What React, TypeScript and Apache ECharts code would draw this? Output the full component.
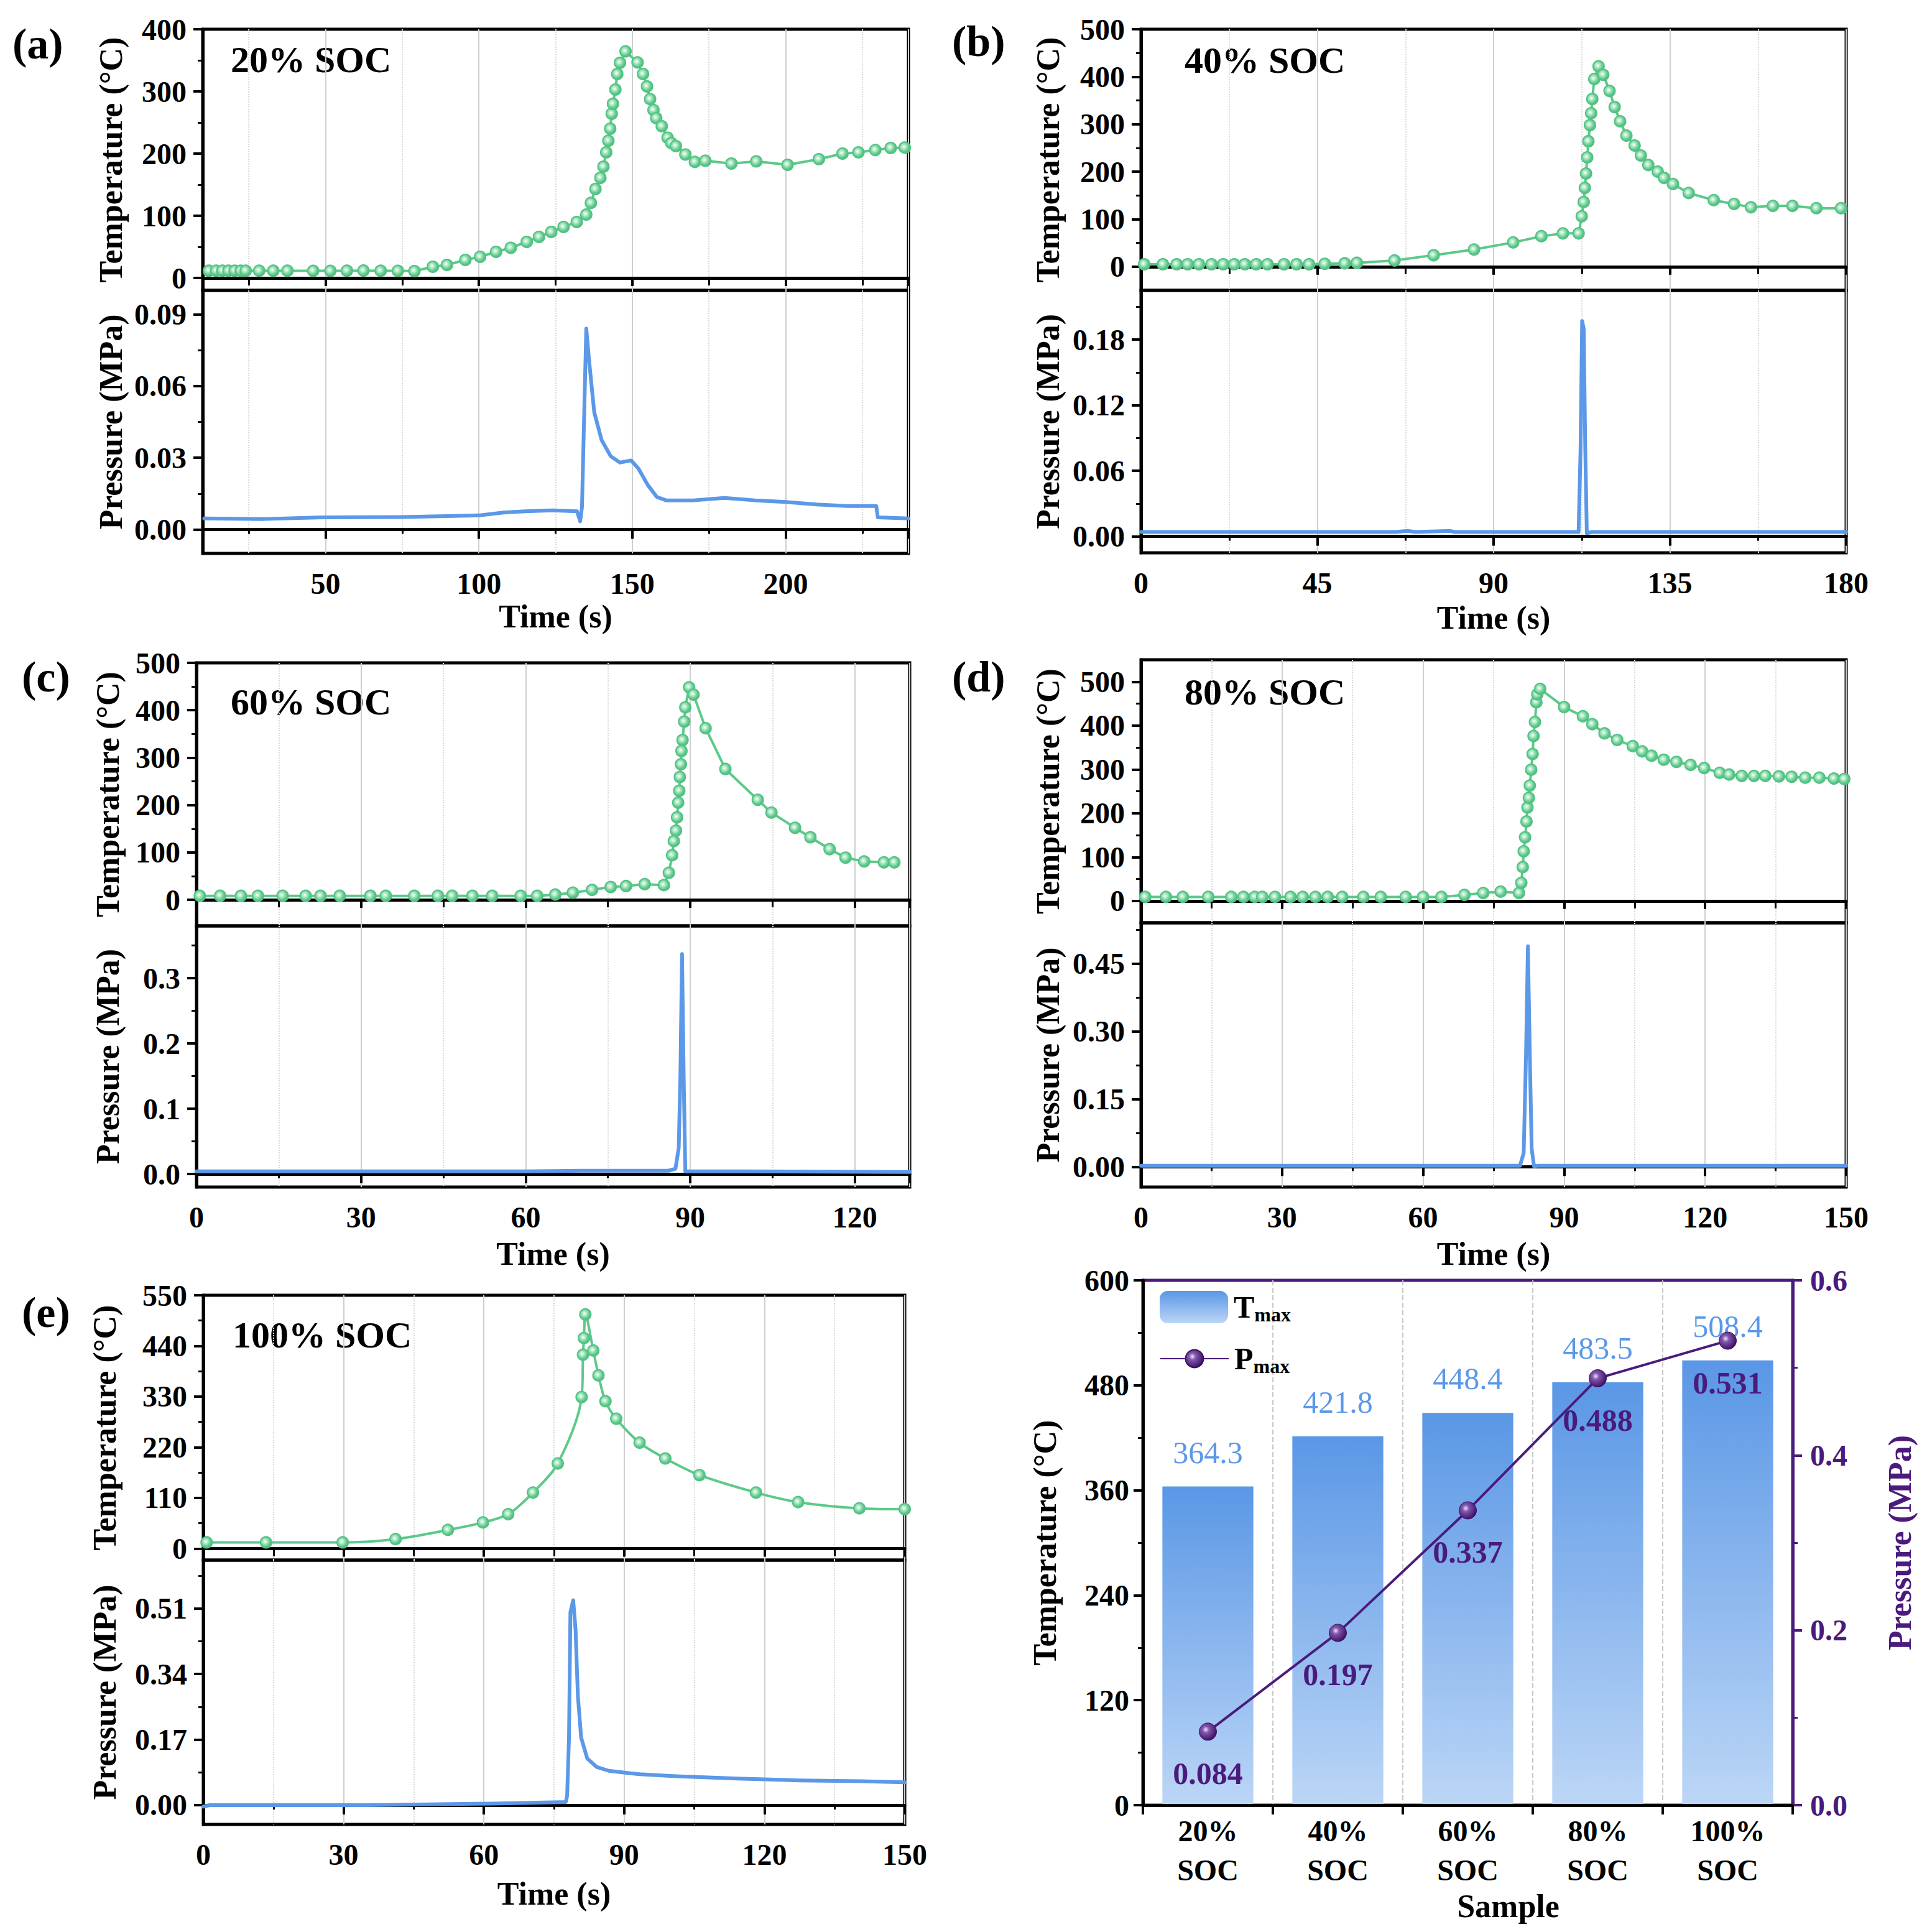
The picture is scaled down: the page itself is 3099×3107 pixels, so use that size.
import React, { useEffect, useRef } from 'react';
import * as echarts from 'echarts';

const FONT = 'Liberation Serif';
const GREEN = '#5cc98a';
const BLUE = '#5b98e8';
const PURPLE = '#4a1b7c';

// ---------- data ----------
const tempA = [
  [12, 11.6], [14.4, 11.6], [16.4, 11.6], [18.4, 11.6], [20.4, 11.6], [22.4, 11.6], [24, 11.6], [28.4, 11.6],
  [33, 11.6], [37.6, 11.6], [46, 11.4], [51.6, 11.4], [57, 11.6], [62.4, 11.8], [68, 11.6], [73.6, 11.4],
  [79, 11], [85, 18], [89.6, 21], [95.6, 29], [100.4, 34], [105.6, 42], [110.4, 48.5], [115.6, 58],
  [119.6, 66], [123.6, 74], [127.6, 82], [131.9, 90], [135, 101.8], [136.5, 120.6], [138, 143], [139.6, 161],
  [140.6, 179], [141.5, 202], [142.2, 220.6], [142.8, 240], [143.3, 264], [143.7, 280], [144.5, 303],
  [145.1, 328], [146, 346], [147.8, 364.3], [151.7, 346.6], [153.5, 328], [154.8, 308], [155.8, 287.6],
  [156.9, 270], [157.8, 257], [159.6, 244], [161.5, 225.5], [162.7, 217], [164.2, 212], [167.3, 198.5],
  [170.4, 186.6], [173.8, 188.5], [182.3, 184], [190.4, 187.5], [200.6, 182], [210.8, 191], [218.5, 200],
  [223.7, 202], [229.2, 205.7], [234.2, 209], [238.8, 209.6],
];
const pressA = [
  [10.5, 0.0046], [30, 0.0044], [50, 0.0051], [75, 0.0052], [100, 0.0059], [108, 0.0071], [115, 0.0076],
  [124, 0.008], [132, 0.0076], [133, 0.0034], [133.6, 0.0093], [134.4, 0.0526], [135, 0.084], [136, 0.0696],
  [137.6, 0.049], [140, 0.0374], [143, 0.0306], [146, 0.028], [149.6, 0.0289], [152, 0.0255], [155, 0.0187],
  [158, 0.0136], [161, 0.0122], [170, 0.0122], [180, 0.0132], [190, 0.0122], [200, 0.0115], [210, 0.0105],
  [220, 0.0098], [229.5, 0.0098], [230, 0.0051], [240, 0.0046],
];
const tempB = [
  [0.8, 5], [5.6, 5], [9.1, 5], [11.9, 5], [14.8, 5], [18, 5], [21, 5], [23.8, 5], [26.5, 5], [29.4, 5],
  [32.3, 5], [36.5, 5], [39.7, 5], [42.9, 5], [46.9, 6], [52, 7], [55.1, 8], [64.7, 13], [74.7, 24], [85, 36],
  [95, 51], [102.2, 64], [107.7, 70], [111.7, 70], [112.5, 106], [113, 136], [113.3, 166], [113.6, 196],
  [113.9, 230], [114.2, 264], [114.6, 298], [114.9, 323], [115.2, 353], [115.7, 395], [116.8, 421.8],
  [118, 404], [119.6, 370], [120.9, 336], [122.3, 306], [123.9, 276], [126, 255], [127.6, 234], [129.5, 214],
  [131.9, 200], [133.5, 187], [135.8, 174], [139.8, 155], [146.2, 140], [151.4, 132], [155.7, 125],
  [161.3, 128], [166.3, 128], [172.4, 123], [178.7, 123],
];
const pressB = [
  [0, 0.004], [30, 0.004], [65, 0.004], [68, 0.005], [70, 0.004], [79, 0.005], [80, 0.004], [111.7, 0.004],
  [112.2, 0.08], [112.6, 0.197], [113, 0.19], [113.4, 0.08], [113.8, 0.003], [115, 0.004], [180, 0.004],
];
const tempC = [
  [0.6, 8.4], [4.3, 8.4], [8.1, 8.4], [11.2, 8.4], [15.7, 8.4], [19.9, 8.4], [22.6, 8.4], [26.1, 8.4],
  [31.7, 8.4], [34.5, 8.4], [39.7, 8.4], [44, 8.4], [46.6, 8.4], [50.3, 8.4], [53.9, 8.4], [59.1, 8.4],
  [62.1, 8.4], [65.4, 11], [68.6, 15], [72.1, 21], [75.5, 27], [78.3, 29], [81.7, 33], [85.2, 31], [86.1, 57],
  [86.7, 94], [87, 124], [87.4, 146], [87.6, 174], [87.8, 205], [88, 230], [88.1, 259], [88.3, 286],
  [88.4, 314], [88.6, 337], [88.9, 376], [89.1, 406], [89.8, 448.4], [90.6, 433], [92.8, 362], [96.4, 276],
  [102.3, 211], [104.8, 184], [109.1, 152], [111.9, 132], [115.4, 107], [118.3, 89], [121.7, 81],
  [125.3, 79], [127.2, 79],
];
const pressC = [
  [0, 0.004], [30, 0.004], [60, 0.004], [70, 0.005], [86, 0.005], [87.3, 0.008], [87.9, 0.04], [88.2, 0.15],
  [88.5, 0.337], [88.8, 0.15], [89.1, 0.004], [100, 0.004], [130, 0.003],
];
const tempD = [
  [0.9, 9], [5.3, 9], [8.9, 9], [14.3, 9], [19.2, 9], [21.8, 9], [24.2, 9], [25.8, 9], [28.5, 9], [31.8, 9],
  [34.4, 9], [37.1, 9], [39.7, 9], [42.8, 9], [47.3, 9], [51, 9], [56.3, 9], [60, 9], [63.9, 9], [68.8, 13.6],
  [72.8, 18], [76.5, 21], [80.4, 18], [80.9, 41], [81.2, 77], [81.4, 113], [81.7, 145], [82, 181], [82.2, 213],
  [82.5, 235], [82.7, 263], [83, 299], [83.3, 335], [83.5, 376], [83.8, 408], [84.1, 453], [84.3, 471],
  [84.9, 483.5], [90, 442], [94, 421], [96, 403], [98.6, 382], [101.3, 367], [104.6, 353], [106.6, 341],
  [108.6, 331], [111.2, 322], [113.9, 317], [116.9, 310], [119.8, 303], [123.1, 292], [125.1, 288],
  [127.8, 285], [130.4, 285], [132.8, 285], [135.7, 284], [138.4, 283], [141.3, 281], [144.3, 281],
  [147.4, 279], [149.6, 278],
];
const pressD = [
  [0, 0.002], [40, 0.002], [80.6, 0.002], [81.4, 0.03], [81.9, 0.25], [82.3, 0.488], [82.7, 0.25],
  [83.1, 0.04], [83.6, 0.001], [84.2, 0.002], [150, 0.002],
];
const tempE = [
  [0.7, 13.5], [13.4, 13.5], [29.8, 13.5], [41.1, 20.7], [52.3, 40.6], [59.8, 56.8], [65.2, 74.8],
  [70.5, 121.7], [75.8, 184.8], [80.9, 329], [81.2, 421], [81.4, 457], [81.7, 508.4], [83.4, 430],
  [84.5, 376], [86, 320], [88.3, 282], [93.3, 230], [98.8, 195.7], [106.1, 159.6], [118.2, 121.7],
  [127.2, 101], [140.3, 87.5], [150, 85.7],
];
const pressE = [
  [0, -0.004], [1.3, 0], [20, 0], [35.5, 0], [61.7, 0.004], [77.5, 0.008], [77.8, 0.024], [78.2, 0.175],
  [78.5, 0.5], [79.1, 0.531], [79.6, 0.456], [80.1, 0.283], [80.8, 0.175], [82.1, 0.121], [84.1, 0.099],
  [86.7, 0.089], [93.3, 0.08], [101.1, 0.075], [114.3, 0.069], [127.4, 0.064], [140.5, 0.062], [150, 0.059],
];

const samples = ['20%\nSOC', '40%\nSOC', '60%\nSOC', '80%\nSOC', '100%\nSOC'];
const tMax = [364.3, 421.8, 448.4, 483.5, 508.4];
const pMax = [0.084, 0.197, 0.337, 0.488, 0.531];

// tick labels
const tempTicksA = [0, 100, 200, 300, 400];
const tempMinorA = [50, 150, 250, 350];
const pressTicksA = [0, 0.03, 0.06, 0.09];
const pressMinorA = [0.015, 0.045, 0.075];
const tempTicksB = [0, 100, 200, 300, 400, 500];
const tempMinorB = [50, 150, 250, 350, 450];
const pressTicksB = [0, 0.06, 0.12, 0.18];
const pressMinorB = [0.03, 0.09, 0.15, 0.21];
const tempTicksC = [0, 100, 200, 300, 400, 500];
const tempMinorC = [50, 150, 250, 350, 450];
const pressTicksC = [0, 0.1, 0.2, 0.3];
const pressMinorC = [0.05, 0.15, 0.25, 0.35];
const tempTicksD = [0, 100, 200, 300, 400, 500];
const tempMinorD = [50, 150, 250, 350, 450];
const pressTicksD = [0, 0.15, 0.3, 0.45];
const pressMinorD = [0.075, 0.225, 0.375, 0.525];
const tempTicksE = [0, 110, 220, 330, 440, 550];
const tempMinorE = [55, 165, 275, 385, 495];
const pressTicksE = [0, 0.17, 0.34, 0.51];
const pressMinorE = [0.085, 0.255, 0.425, 0.595];

// ---------- layout ----------
const panels = [
  {
    label: '(a)', soc: '20% SOC', temp: tempA, press: pressA, smooth: false,
    x: { min: 10, max: 240, splitNumber: 5 }, hideMin: true, hideMax: true,
    tY: [-20, 400], tTicks: tempTicksA, tMinor: tempMinorA,
    pY: [-0.01, 0.1], pTicks: pressTicksA, pMinor: pressMinorA, pDigits: 2,
    box: { left: 326, right: 1461, top: 47, mid: 467, bottom: 890 },
    labelPos: [20, 70], socPos: [371, 96], yNameGap: 122, xNameGap: 75,
  },
  {
    label: '(b)', soc: '40% SOC', temp: tempB, press: pressB, smooth: false,
    x: { min: 0, max: 180, interval: 45 }, hideMin: false, hideMax: false,
    tY: [-50, 500], tTicks: tempTicksB, tMinor: tempMinorB,
    pY: [-0.015, 0.225], pTicks: pressTicksB, pMinor: pressMinorB, pDigits: 2,
    box: { left: 1835, right: 2969, top: 47, mid: 467, bottom: 889 },
    labelPos: [1531, 66], socPos: [1905, 97], yNameGap: 124, xNameGap: 78,
  },
  {
    label: '(c)', soc: '60% SOC', temp: tempC, press: pressC, smooth: false,
    x: { min: 0, max: 130, interval: 30 }, hideMin: false, hideMax: true,
    tY: [-55, 500], tTicks: tempTicksC, tMinor: tempMinorC,
    pY: [-0.02, 0.38], pTicks: pressTicksC, pMinor: pressMinorC, pDigits: 1,
    box: { left: 316, right: 1463, top: 1066, mid: 1489, bottom: 1909 },
    labelPos: [35, 1088], socPos: [371, 1129], yNameGap: 117, xNameGap: 81,
  },
  {
    label: '(d)', soc: '80% SOC', temp: tempD, press: pressD, smooth: false,
    x: { min: 0, max: 150, interval: 30 }, hideMin: false, hideMax: false,
    tY: [-50, 550], tTicks: tempTicksD, tMinor: tempMinorD,
    pY: [-0.045, 0.54], pTicks: pressTicksD, pMinor: pressMinorD, pDigits: 2,
    box: { left: 1835, right: 2969, top: 1061, mid: 1484, bottom: 1909 },
    labelPos: [1531, 1088], socPos: [1905, 1113], yNameGap: 124, xNameGap: 81,
  },
  {
    label: '(e)', soc: '100% SOC', temp: tempE, press: pressE, smooth: 0.3,
    x: { min: 0, max: 150, interval: 30 }, hideMin: false, hideMax: false,
    tY: [-25, 550], tTicks: tempTicksE, tMinor: tempMinorE,
    pY: [-0.05, 0.635], pTicks: pressTicksE, pMinor: pressMinorE, pDigits: 2,
    box: { left: 327, right: 1455, top: 2083, mid: 2509, bottom: 2934 },
    labelPos: [35, 2110], socPos: [374, 2147], yNameGap: 133, xNameGap: 85,
  },
];
const boxF = { left: 1838, right: 2883, top: 2059, bottom: 2903 };

const labelFont = { fontFamily: FONT, fontWeight: 'bold' as const, fontSize: 48, color: '#000' };
const nameFont = { fontFamily: FONT, fontWeight: 'bold' as const, fontSize: 52, color: '#000' };

const greenBall = {
  type: 'radial', x: 0.42, y: 0.42, r: 0.6,
  colorStops: [
    { offset: 0, color: '#ffffff' }, { offset: 0.3, color: '#b5ebca' },
    { offset: 0.7, color: '#63cc90' }, { offset: 1, color: '#4cb87a' },
  ],
};
const purpleBall = {
  type: 'radial', x: 0.38, y: 0.38, r: 0.65,
  colorStops: [
    { offset: 0, color: '#efe4f8' }, { offset: 0.3, color: '#8156ad' },
    { offset: 1, color: '#3a0f63' },
  ],
};
const barGrad = {
  type: 'linear', x: 0, y: 0, x2: 0, y2: 1,
  colorStops: [{ offset: 0, color: '#5a97e6' }, { offset: 1, color: '#bcd6f6' }],
};

function buildOption() {
  const grid: any[] = [];
  const xAxis: any[] = [];
  const yMain: any[] = [];
  const yMinor: any[] = [];
  const series: any[] = [];
  const graphic: any[] = [];

  panels.forEach((p, i) => {
    const b = p.box;
    grid.push({ left: b.left, top: b.top, width: b.right - b.left, height: b.mid - b.top, show: true, borderColor: '#000', borderWidth: 5 });
    grid.push({ left: b.left, top: b.mid, width: b.right - b.left, height: b.bottom - b.mid, show: true, borderColor: '#000', borderWidth: 5 });

    [0, 1].forEach((k) => {
      const g = 2 * i + k;
      const isBottom = k === 1;
      const xa: any = {
        type: 'value', gridIndex: g, min: p.x.min, max: p.x.max, position: 'bottom',
        axisLine: { show: true, lineStyle: { color: '#000', width: 5 } },
        axisTick: { show: true, inside: false, length: isBottom ? 15 : 13, lineStyle: { color: '#000', width: 4 } },
        minorTick: { show: true, splitNumber: 2, length: isBottom ? 7 : 12, lineStyle: { color: '#000', width: 3 } },
        splitLine: { show: true, lineStyle: { color: '#cfcfcf', width: 2 } },
        minorSplitLine: { show: true, lineStyle: { color: '#dadada', width: 2, type: 'dotted' } },
        axisLabel: { show: isBottom, margin: 24, showMinLabel: !p.hideMin, showMaxLabel: !p.hideMax, ...labelFont },
      };
      if (p.x.interval) xa.interval = p.x.interval;
      if (p.x.splitNumber) xa.splitNumber = p.x.splitNumber;
      if (isBottom) {
        xa.name = 'Time (s)';
        xa.nameLocation = 'middle';
        xa.nameGap = p.xNameGap;
        xa.nameTextStyle = nameFont;
      }
      xAxis.push(xa);

      const range = isBottom ? p.pY : p.tY;
      const ticks = isBottom ? p.pTicks : p.tTicks;
      const minor = isBottom ? p.pMinor : p.tMinor;
      yMain.push({
        type: 'value', gridIndex: g, position: 'left', min: range[0], max: range[1],
        axisLine: { show: true, lineStyle: { color: '#000', width: 5 } },
        axisTick: { show: true, inside: false, length: 15, customValues: ticks, lineStyle: { color: '#000', width: 4 } },
        axisLabel: {
          customValues: ticks, margin: 26, ...labelFont,
          formatter: (v: number) => (isBottom ? v.toFixed(p.pDigits) : String(v)),
        },
        splitLine: { show: false },
        name: isBottom ? 'Pressure (MPa)' : 'Temperature (°C)',
        nameLocation: 'middle', nameRotate: 90, nameGap: p.yNameGap, nameTextStyle: nameFont,
      });
      yMinor.push({
        type: 'value', gridIndex: g, position: 'left', min: range[0], max: range[1],
        axisLine: { show: false }, axisLabel: { show: false }, splitLine: { show: false },
        axisTick: { show: true, inside: false, length: 8, customValues: minor, lineStyle: { color: '#000', width: 3 } },
      });
    });

    series.push({
      type: 'line', name: `T${i}`, xAxisIndex: 2 * i, yAxisIndex: 2 * i, data: p.temp, smooth: p.smooth,
      symbol: 'circle', symbolSize: 18, showAllSymbol: true, color: GREEN,
      lineStyle: { color: GREEN, width: 4, join: 'round' },
      itemStyle: { color: greenBall, borderColor: '#52c283', borderWidth: 2 },
      z: 4,
    });
    series.push({
      type: 'line', name: `P${i}`, xAxisIndex: 2 * i + 1, yAxisIndex: 2 * i + 1, data: p.press,
      symbol: 'none', color: BLUE, lineStyle: { color: BLUE, width: 6, join: 'round', cap: 'round' }, z: 3,
    });

    graphic.push({
      type: 'text', x: p.labelPos[0], y: p.labelPos[1],
      style: { text: p.label, fontFamily: FONT, fontWeight: 'bold', fontSize: 70, fill: '#000', align: 'left', verticalAlign: 'middle' },
    });
    graphic.push({
      type: 'text', x: p.socPos[0], y: p.socPos[1],
      style: { text: p.soc, fontFamily: FONT, fontWeight: 'bold', fontSize: 60, fill: '#000', align: 'left', verticalAlign: 'middle' },
    });
  });

  // ---------- panel (f) ----------
  grid.push({
    left: boxF.left, top: boxF.top, width: boxF.right - boxF.left, height: boxF.bottom - boxF.top,
    show: true, borderColor: PURPLE, borderWidth: 5,
  });
  xAxis.push({
    type: 'category', gridIndex: 10, data: samples, z: 3,
    axisLine: { show: true, lineStyle: { color: '#000', width: 5 } },
    axisTick: { show: true, inside: false, length: 15, lineStyle: { color: '#000', width: 4 } },
    axisLabel: { margin: 10, lineHeight: 63, interval: 0, ...labelFont },
    splitLine: { show: true, lineStyle: { type: 'dashed', color: '#c8c8c8', width: 2 } },
    name: 'Sample', nameLocation: 'middle', nameGap: 125,
    nameTextStyle: { ...nameFont, padding: [0, 0, 0, 130] },
  });
  const yF = [
    {
      type: 'value', gridIndex: 10, position: 'left', min: 0, max: 600, interval: 120, z: 3,
      axisLine: { show: true, lineStyle: { color: '#000', width: 5 } },
      axisTick: { show: true, inside: false, length: 15, lineStyle: { color: '#000', width: 4 } },
      minorTick: { show: true, splitNumber: 2, length: 8, lineStyle: { color: '#000', width: 3 } },
      axisLabel: { margin: 22, ...labelFont },
      splitLine: { show: false },
      name: 'Temperature (°C)', nameLocation: 'middle', nameRotate: 90, nameGap: 132, nameTextStyle: nameFont,
    },
    {
      type: 'value', gridIndex: 10, position: 'right', min: 0, max: 0.6, interval: 0.2, z: 3,
      axisLine: { show: true, lineStyle: { color: PURPLE, width: 5 } },
      axisTick: { show: true, inside: false, length: 15, lineStyle: { color: PURPLE, width: 4 } },
      minorTick: { show: true, splitNumber: 2, length: 8, lineStyle: { color: PURPLE, width: 3 } },
      axisLabel: { margin: 28, ...labelFont, color: PURPLE, formatter: (v: number) => v.toFixed(1) },
      splitLine: { show: false },
      name: 'Pressure (MPa)', nameLocation: 'middle', nameRotate: 90, nameGap: 146,
      nameTextStyle: { ...nameFont, color: PURPLE },
    },
  ];

  series.push({
    type: 'bar', name: 'Tmax', xAxisIndex: 10, yAxisIndex: yMain.length + yMinor.length, data: tMax,
    barWidth: '70%', color: barGrad, itemStyle: { color: barGrad },
    label: { show: true, position: 'top', distance: 30, color: BLUE, fontFamily: FONT, fontSize: 50 },
    z: 2,
  });
  series.push({
    type: 'line', name: 'Pmax', xAxisIndex: 10, yAxisIndex: yMain.length + yMinor.length + 1, data: pMax,
    color: PURPLE, symbol: 'circle', symbolSize: 28,
    lineStyle: { color: PURPLE, width: 4 },
    itemStyle: { color: purpleBall, borderColor: '#3a0f63', borderWidth: 1 },
    label: { show: true, position: 'bottom', distance: 28, color: PURPLE, fontFamily: FONT, fontWeight: 'bold', fontSize: 50 },
    z: 5,
  });

  const legendRich = {
    t: { fontFamily: FONT, fontWeight: 'bold', fontSize: 50, lineHeight: 56, color: '#000' },
    s: { fontFamily: FONT, fontWeight: 'bold', fontSize: 32, lineHeight: 20, verticalAlign: 'bottom', color: '#000' },
  };
  const legend = [
    {
      data: ['Tmax'], left: 1860, top: 2071, itemWidth: 110, itemHeight: 52, itemGap: 10, orient: 'vertical',
      formatter: () => '{t|T}{s|max}', textStyle: { rich: legendRich, padding: [0, 0, 0, 4] },
    },
    {
      data: ['Pmax'], left: 1860, top: 2155, itemWidth: 110, itemHeight: 36, itemGap: 10, orient: 'vertical',
      formatter: () => '{t|P}{s|max}', textStyle: { rich: legendRich, padding: [0, 0, 0, 4] },
    },
  ];

  return {
    animation: false,
    backgroundColor: '#fff',
    textStyle: { fontFamily: FONT },
    grid,
    xAxis,
    yAxis: [...yMain, ...yMinor, ...yF],
    series,
    legend,
    graphic,
  };
}

export default function App() {
  const ref = useRef<HTMLDivElement>(null);
  useEffect(() => {
    if (!ref.current) return;
    const chart = echarts.init(ref.current, undefined, { renderer: 'svg', width: 3099, height: 3107 });
    chart.setOption(buildOption() as any);
    return () => chart.dispose();
  }, []);
  return (
    <div
      ref={ref}
      style={{ position: 'absolute', left: 0, top: 0, width: 3099, height: 3107, background: '#fff' }}
    />
  );
}
